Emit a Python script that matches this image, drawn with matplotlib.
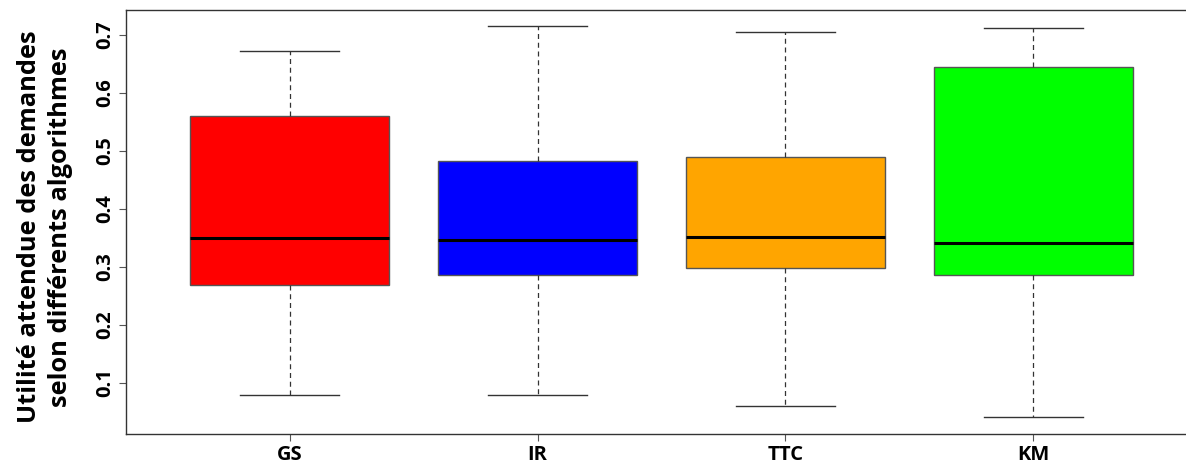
import matplotlib
matplotlib.use("Agg")
import matplotlib.pyplot as plt

categories = ["GS", "IR", "TTC", "KM"]
whislo = [0.079, 0.079, 0.060, 0.041]
q1 = [0.269, 0.286, 0.298, 0.286]
med = [0.350, 0.347, 0.352, 0.341]
q3 = [0.560, 0.483, 0.490, 0.645]
whishi = [0.672, 0.716, 0.705, 0.712]
colors = ["#FF0000", "#0000FF", "#FFA500", "#00FF00"]
yticks = [0.1, 0.2, 0.3, 0.4, 0.5, 0.6, 0.7]

W, H = 1186, 463
fig = plt.figure(figsize=(W / 100, H / 100), dpi=100)
ax = fig.add_axes([126 / W, 1 - 434 / H, (1197 - 126) / W, (434 - 10) / H])

stats = []
for i, c in enumerate(categories):
    stats.append(dict(label=c, whislo=whislo[i], q1=q1[i], med=med[i], q3=q3[i], whishi=whishi[i], fliers=[]))

positions = list(range(1, len(categories) + 1))
bp = ax.bxp(stats, positions=positions, widths=0.8, patch_artist=True, showfliers=False,
            boxprops=dict(edgecolor="#555555", linewidth=1.0),
            medianprops=dict(color="black", linewidth=2.2),
            whiskerprops=dict(color="#333333", linewidth=0.9, linestyle=(0, (4, 3))),
            capprops=dict(color="#333333", linewidth=1.0), capwidths=0.4)
for patch, col in zip(bp["boxes"], colors):
    patch.set_facecolor(col)

ax.set_xlim(0.34, 4.66)
ax.set_ylim(0.012, 0.743)
ax.set_yticks(yticks)
ax.set_yticklabels([f"{t:.1f}" for t in yticks], rotation=90, va="center",
                   fontsize=14.5, fontweight="bold", family="Open Sans")
ax.set_xticks(positions)
ax.set_xticklabels(categories, fontsize=14.5, fontweight="bold", family="Open Sans")
ax.tick_params(axis="both", length=5, width=0.8, color="#555555", pad=3)
for s in ax.spines.values():
    s.set_color("#333333")
    s.set_linewidth(1.0)

fig.text(45 / W, 1 - 227 / H, "Utilité attendue des demandes\nselon différents algorithmes",
         rotation=90, ha="center", va="center", fontsize=18.3, fontweight="bold",
         family="Open Sans", linespacing=1.3, multialignment="center")

fig.savefig("out.png", dpi=100)
